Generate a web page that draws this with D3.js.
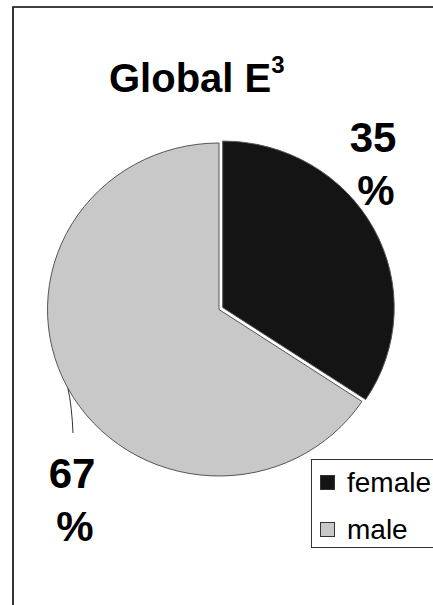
<!DOCTYPE html>
<html>
<head>
<meta charset="utf-8">
<script src="https://cdn.jsdelivr.net/npm/d3@7"></script>
<style>
  html, body { margin: 0; padding: 0; background: #fff; }
  svg { display: block; }
  text { font-family: "Liberation Sans", Arial, sans-serif; }
</style>
</head>
<body>
<script>
const categories = ["female", "male"];
const values = [35, 67];
const labels = ["35 %", "67 %"];
const colors = ["#141414", "#c8c8c8"];

const W = 433, H = 605;
const svg = d3.select("body").append("svg").attr("width", W).attr("height", H);

// frame
svg.append("line").attr("x1", 13).attr("y1", 7).attr("x2", W).attr("y2", 7)
  .attr("stroke", "#000").attr("stroke-width", 1.5);
svg.append("line").attr("x1", 13).attr("y1", 6.3).attr("x2", 13).attr("y2", H)
  .attr("stroke", "#333").attr("stroke-width", 2);

// title
const title = svg.append("text").attr("x", 109).attr("y", 92)
  .attr("font-size", 40).attr("font-weight", "bold").attr("fill", "#000");
title.append("tspan").text("Global E");
title.append("tspan").attr("dy", -19).attr("font-size", 24).text("3");

// pie
const cx = 219, cy = 309.5, rx = 171.5, ry = 166.5;
const data = categories.map((c, i) => ({ cat: c, value: values[i], color: colors[i], label: labels[i] }));
const pie = d3.pie().value(d => d.value).sort(null);
const arcs = pie(data);
const arc = d3.arc().innerRadius(0).outerRadius(rx);

const g = svg.append("g").attr("transform", `translate(${cx},${cy}) scale(1,${ry / rx})`);
const explode = [4.2, 0];
g.selectAll("path").data(arcs).join("path")
  .attr("d", arc)
  .attr("transform", (d, i) => {
    const a = (d.startAngle + d.endAngle) / 2;
    return `translate(${Math.sin(a) * explode[i]},${-Math.cos(a) * explode[i]})`;
  })
  .attr("fill", d => d.data.color)
  .attr("stroke", "#555")
  .attr("stroke-width", 1)
  .attr("vector-effect", "non-scaling-stroke");

// labels
const labelPos = [[373, 152], [72, 488]];
arcs.forEach((d, i) => {
  const parts = d.data.label.split(" ");
  const t = svg.append("text").attr("text-anchor", "middle")
    .attr("font-size", 42).attr("font-weight", "bold").attr("fill", "#000");
  t.append("tspan").attr("x", labelPos[i][0]).attr("y", labelPos[i][1]).text(parts[0]);
  t.append("tspan").attr("x", labelPos[i][0] + 3).attr("y", labelPos[i][1] + 53).text(parts[1]);
});

// leader line for male
{
  const d = arcs[1];
  const a = (d.startAngle + d.endAngle) / 2;
  const sx = cx + Math.sin(a) * rx, sy = cy - Math.cos(a) * ry;
  const ex = labelPos[1][0] + 1, ey = labelPos[1][1] - 55;
  svg.append("path")
    .attr("d", `M${sx},${sy} Q${sx + 4},${sy + 18} ${ex},${ey}`)
    .attr("fill", "none").attr("stroke", "#333").attr("stroke-width", 1);
}

// legend
const lg = svg.append("g");
lg.append("rect").attr("x", 311.5).attr("y", 459.5).attr("width", 140).attr("height", 88)
  .attr("fill", "#fff").attr("stroke", "#333").attr("stroke-width", 1);
const legY = [475, 522];
data.forEach((d, i) => {
  lg.append("rect").attr("x", 320.5).attr("y", legY[i] + 0.5).attr("width", 14).attr("height", 14)
    .attr("fill", d.color).attr("stroke", "#333").attr("stroke-width", 1);
  lg.append("text").attr("x", 347).attr("y", legY[i] + 17)
    .attr("font-size", 28).attr("fill", "#000").text(d.cat);
});
</script>
</body>
</html>
